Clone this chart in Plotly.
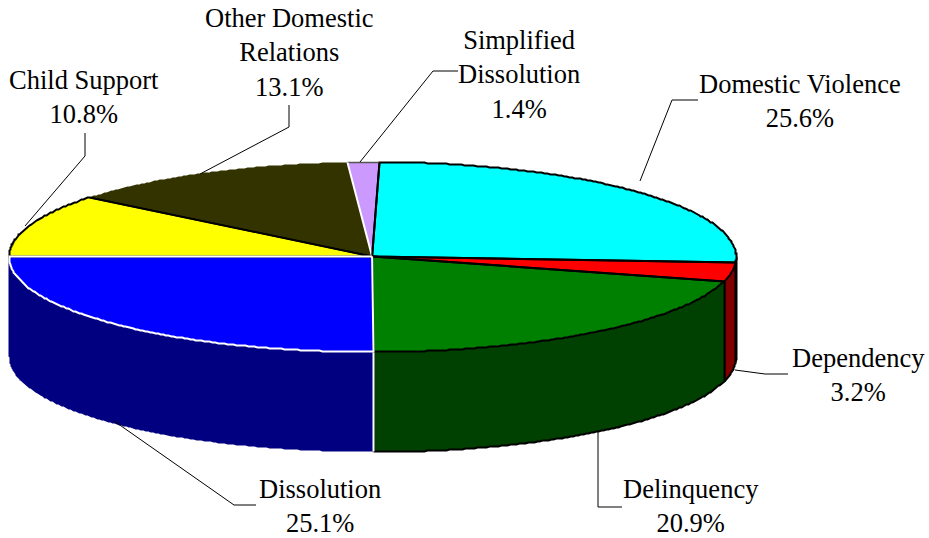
import numpy as np
import plotly.graph_objects as go

# ---- data (clockwise from the top of the pie) ----
categories = ["Domestic Violence", "Dependency", "Delinquency", "Dissolution",
              "Child Support", "Other Domestic Relations", "Simplified Dissolution"]
shares = [25.6, 3.2, 20.9, 25.1, 10.8, 13.1, 1.4]
share_labels = ["25.6%", "3.2%", "20.9%", "25.1%", "10.8%", "13.1%", "1.4%"]
label_lines = ["Domestic Violence", "Dependency", "Delinquency", "Dissolution",
               "Child Support", "Other Domestic<br>Relations", "Simplified<br>Dissolution"]

# ---- styling / layout ----
top_colors = ["#00FFFF", "#FF0000", "#008000", "#0000FF", "#FFFF00", "#333300", "#CC99FF"]
wall_colors = ["#000000", "#800000", "#004000", "#000080", None, None, None]
label_xy = [(800, 100.5), (858, 374.5), (691, 505.5), (320, 505.5), (84, 96.5), (289, 52), (519, 74)]
leaders = [
    [(698, 100), (672, 100), (640, 181)],
    [(788, 374), (765, 374), (735, 370)],
    [(622, 507), (598, 507), (598, 432)],
    [(256, 505), (234, 505), (114, 421)],
    [(85, 133), (85, 156), (25, 226)],
    [(289, 105), (289, 127), (200, 174)],
    [(458, 71), (433, 71), (360, 162)],
]
CX, CY, RX, RY, DEPTH = 372.1, 256.5, 363.6, 95, 100
START_ANGLE = 1.1  # degrees clockwise from top
FONT = dict(family="Liberation Serif", size=26.5, color="#000000")

total = sum(shares)
edges = START_ANGLE + np.concatenate([[0], np.cumsum(shares)]) / total * 360
edges[-1] = START_ANGLE + 360


def arc(a0, a1, dy=0.0):
    t = np.radians(np.linspace(a0, a1, max(int(abs(a1 - a0) * 2), 2)))
    # pixel-snapped rim gives the stepped edge of the source rendering
    return np.round(CX + RX * np.sin(t)) + 0.5, np.round(CY - RY * np.cos(t) + dy) + 0.5


def add(fig, x, y, color=None, line=None, width=1.0):
    fig.add_trace(go.Scatter(
        x=list(x), y=list(y), mode="lines", hoverinfo="skip", showlegend=False,
        fill="toself" if color else "none", fillcolor=color,
        line=dict(color=line or "rgba(0,0,0,0)", width=width if line else 0),
    ))


fig = go.Figure()

# side walls (front half only)
for i in range(len(shares)):
    a0, a1 = max(edges[i], 90), min(edges[i + 1], 270)
    if a1 <= a0 or wall_colors[i] is None:
        continue
    xt, yt = arc(a0, a1)
    xb, yb = arc(a1, a0, DEPTH)
    add(fig, np.r_[xt, xb, xt[0]], np.r_[yt, yb, yt[0]], wall_colors[i])
    if categories[i] != "Dissolution":
        add(fig, xb, yb, None, "#000000", 2)
        add(fig, [xt[0], xt[0]], [yt[0], yt[0] + DEPTH], None, "#000000", 2)
        add(fig, [xt[-1], xt[-1]], [yt[-1], yt[-1] + DEPTH], None, "#000000", 2)

# white seam between the Delinquency and Dissolution walls
i = categories.index("Dissolution")
xs, ys = arc(edges[i], edges[i] + 1)
add(fig, [xs[0], xs[0]], [ys[0], ys[0] + DEPTH], None, "#FFFFFF", 2)

# top faces
for i in range(len(shares)):
    x, y = arc(edges[i], edges[i + 1])
    add(fig, np.r_[CX, x, CX], np.r_[CY, y, CY], top_colors[i])

# outlines of the top faces
for i in range(len(shares)):
    x, y = arc(edges[i], edges[i + 1])
    name = categories[i]
    if name == "Dissolution":
        continue
    if name == "Other Domestic Relations":
        add(fig, [x[0], CX], [y[0], CY], None, "#000000", 1.5)
    elif name == "Simplified Dissolution":
        add(fig, x, y, None, "#555555", 1.5)
        add(fig, [x[0], CX], [y[0], CY], None, "#FFFFFF", 2)
        add(fig, [x[-1], CX], [y[-1], CY], None, "#000000", 2)
    else:
        add(fig, np.r_[CX, x, CX], np.r_[CY, y, CY], None, "#000000", 2)

# white boundary of Dissolution drawn last so it sits on top, as in the source
i = categories.index("Dissolution")
x, y = arc(edges[i], edges[i + 1])
add(fig, np.r_[CX, x, CX], np.r_[CY, y, CY], None, "#FFFFFF", 2)

# leader lines
for pts in leaders:
    add(fig, [p[0] for p in pts], [p[1] for p in pts], None, "#000000", 1)

# labels
annotations = [
    dict(x=lx, y=ly, xref="x", yref="y", text=f"{t}<br>{s}", showarrow=False,
         font=FONT, align="center", xanchor="center", yanchor="middle")
    for (lx, ly), t, s in zip(label_xy, label_lines, share_labels)
]

fig.update_layout(
    width=929, height=538, margin=dict(l=0, r=0, t=0, b=0),
    paper_bgcolor="#FFFFFF", plot_bgcolor="#FFFFFF", annotations=annotations,
    xaxis=dict(range=[0, 929], visible=False, fixedrange=True),
    yaxis=dict(range=[538, 0], visible=False, fixedrange=True),
)
fig.write_html("out.html", config={"displayModeBar": False},
               post_script="document.body.style.margin='0';document.body.style.overflow='hidden';")
